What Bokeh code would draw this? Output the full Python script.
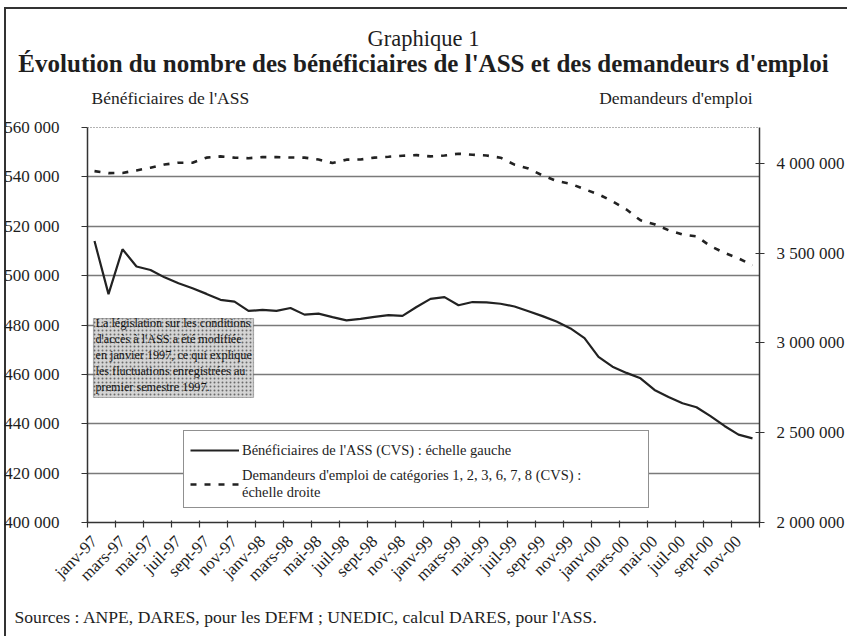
import math
from bokeh.plotting import figure
from bokeh.models import (Range1d, LinearAxis, FixedTicker, Label, Span, BoxAnnotation,
                          Legend, LegendItem, ColumnDataSource, Title)
from bokeh.embed import file_html
from bokeh.resources import INLINE

# ---------------- data ----------------
month_names = ["janv", "févr", "mars", "avr", "mai", "juin",
               "juil", "août", "sept", "oct", "nov", "déc"]
years = ["97", "98", "99", "00"]
months = [f"{m}-{y}" for y in years for m in month_names]          # 48 categories

# Bénéficiaires de l'ASS (CVS) - left scale
ass = [514000, 492500, 510700, 503700, 502300, 499300, 496900, 494900,
       492600, 490200, 489500, 485700, 486100, 485700, 486900, 484200,
       484600, 483200, 481900, 482500, 483300, 484000, 483700, 487300,
       490600, 491300, 488000, 489300, 489200, 488600, 487500, 485600,
       483600, 481400, 478600, 474700, 467100, 463100, 460600, 458400,
       453700, 450800, 448300, 446700, 443100, 439100, 435600, 434100]

# Demandeurs d'emploi cat. 1,2,3,6,7,8 (CVS) - right scale
defm = [3957000, 3946000, 3947000, 3961000, 3976000, 3994000, 4004000, 4004000,
        4032000, 4039000, 4032000, 4029000, 4035000, 4035000, 4033000, 4032000,
        4022000, 4002000, 4021000, 4022000, 4032000, 4037000, 4043000, 4046000,
        4039000, 4044000, 4054000, 4048000, 4044000, 4032000, 3993000, 3971000,
        3933000, 3902000, 3887000, 3856000, 3828000, 3789000, 3743000, 3683000,
        3661000, 3628000, 3604000, 3594000, 3539000, 3502000, 3471000, 3433000]

tick_labels = months[::2]                                            # janv-97, mars-97, ...
left_ticks = [400000, 420000, 440000, 460000, 480000, 500000, 520000, 540000, 560000]
right_ticks = [2000000, 2500000, 3000000, 3500000, 4000000]
left_lim = (400000, 560000)
right_lim = (2000000, 4200000)


def fmt(v):
    return f"{v:,}".replace(",", " ")


FONT = "Liberation Serif"
INK = "#1e1e1e"

# ---------------- geometry ----------------
W, H = 847, 636
FL, FR, FT, FB = 87, 760, 86, 522       # frame edges (px)
AX_TOP = 127                            # pixel row of the top of both scales
span_px = FB - AX_TOP
left_end = left_lim[0] + (FB - FT) * (left_lim[1] - left_lim[0]) / span_px
right_end = right_lim[0] + (FB - FT) * (right_lim[1] - right_lim[0]) / span_px

src = ColumnDataSource(dict(i=list(range(len(months))), ass=ass, defm=defm, month=months))

p = figure(width=W, height=H, output_backend="svg", toolbar_location=None,
           x_range=Range1d(-0.5, len(months) - 0.5),
           y_range=Range1d(left_lim[0], left_end),
           min_border_left=FL, min_border_right=W - FR,
           min_border_top=FT, min_border_bottom=H - FB)
p.extra_y_ranges = {"right": Range1d(right_lim[0], right_end)}
p.outline_line_color = None
p.background_fill_color = "white"
p.border_fill_color = None
p.styles = {"box-shadow": "inset 4px 7px 0 0 white, inset 6px 9px 0 0 #333333",
            "background-color": "white"}

# ---------------- titles ----------------
p.add_layout(Title(text="Évolution du nombre des bénéficiaires de l'ASS et des demandeurs d'emploi",
                   align="center", text_font=FONT, text_font_size="25px",
                   text_font_style="bold", text_color=INK, standoff=20), "above")
p.add_layout(Title(text="Graphique 1", align="center", text_font=FONT,
                   text_font_size="22.5px", text_font_style="normal", text_color=INK,
                   standoff=-26), "above")

# ---------------- axes ----------------
xa = p.xaxis[0]
label_pos = list(range(0, len(months), 2))                # label at each labelled month
bounds_pos = [k - 0.5 for k in range(0, len(months) + 1, 2)]   # tick marks between pairs
xa.ticker = FixedTicker(ticks=label_pos, minor_ticks=bounds_pos)
xa.major_label_overrides = {t: lab for t, lab in zip(label_pos, tick_labels)}
xa.major_label_orientation = math.pi / 4
xa.major_label_text_font = FONT
xa.major_label_text_font_size = "17px"
xa.major_label_text_color = INK
xa.major_tick_out = 0
xa.major_tick_in = 0
xa.minor_tick_out = 5
xa.minor_tick_in = 2
xa.minor_tick_line_color = "#333333"
xa.minor_tick_line_width = 1.2
xa.major_label_standoff = 11
xa.axis_line_color = "#333333"
xa.axis_line_width = 1.5

ya = p.yaxis[0]
ya.bounds = left_lim
ya.ticker = FixedTicker(ticks=left_ticks, minor_ticks=[])
ya.major_label_overrides = {t: fmt(t) for t in left_ticks}
ya.major_label_text_font = FONT
ya.major_label_text_font_size = "17px"
ya.major_label_text_color = INK
ya.major_tick_out = 6
ya.major_tick_in = 0
ya.major_label_standoff = 22
ya.axis_line_color = "#333333"
ya.axis_line_width = 1.5
ya.major_tick_line_color = "#333333"

ra = LinearAxis(y_range_name="right")
ra.bounds = right_lim
ra.ticker = FixedTicker(ticks=right_ticks, minor_ticks=[])
ra.major_label_overrides = {t: fmt(t) for t in right_ticks}
ra.major_label_text_font = FONT
ra.major_label_text_font_size = "17px"
ra.major_label_text_color = INK
ra.major_tick_out = 5
ra.major_tick_in = 4
ra.major_label_standoff = 12
ra.axis_line_color = "#333333"
ra.axis_line_width = 1.5
ra.major_tick_line_color = "#333333"
p.add_layout(ra, "right")

p.add_layout(Title(text="Sources : ANPE, DARES, pour les DEFM ; UNEDIC, calcul DARES, pour l'ASS.",
                   align="left", offset=-73, text_font=FONT, text_font_size="17.6px",
                   text_font_style="normal", text_color=INK, standoff=20), "below")

p.xgrid.grid_line_color = None
p.ygrid.ticker = FixedTicker(ticks=left_ticks[1:-1], minor_ticks=[])
p.ygrid.grid_line_color = "#7a7a7a"
p.ygrid.grid_line_width = 1.3

p.add_layout(Span(location=left_lim[1], dimension="width", line_color="#666666",
                  line_dash="1 2", line_width=1.2))

# ---------------- series ----------------
r_ass = p.line("i", "ass", source=src, line_color="#222222", line_width=2.2)
r_defm = p.line("i", "defm", source=src, y_range_name="right", line_color="#222222",
                line_width=2.6, line_dash="6 8")

legend = Legend(items=[
    LegendItem(label="Bénéficiaires de l'ASS (CVS) : échelle gauche", renderers=[r_ass]),
    LegendItem(label="Demandeurs d'emploi de catégories 1, 2, 3, 6, 7, 8 (CVS) :\néchelle droite",
               renderers=[r_defm]),
], location=(96, 14))
legend.margin = 0
legend.padding = 6
legend.spacing = 4
legend.glyph_width = 49
legend.glyph_height = 26
legend.label_height = 26
legend.label_width = 400
legend.label_standoff = 3
legend.label_text_font = FONT
legend.label_text_font_size = "14.5px"
legend.label_text_color = INK
legend.label_text_line_height = 1.15
legend.border_line_color = "#222222"
legend.border_line_width = 1.2
legend.background_fill_color = "white"
legend.background_fill_alpha = 1
p.add_layout(legend, "center")

# ---------------- annotation box ----------------
p.add_layout(BoxAnnotation(left=6, right=166, top=204, bottom=125,
                           left_units="screen", right_units="screen",
                           top_units="screen", bottom_units="screen",
                           fill_color="#d4d4d4", fill_alpha=1,
                           hatch_pattern=".", hatch_color="#6a6a6a", hatch_scale=4,
                           line_color="#222222", line_width=1.2, level="overlay"))
p.add_layout(Label(x=8, y=207, x_units="screen", y_units="screen",
                   text="La législation sur les conditions\nd'accès à l'ASS a été modifiée\n"
                        "en janvier 1997, ce qui explique\nles fluctuations enregistrées au\n"
                        "premier semestre 1997.",
                   text_font=FONT, text_font_size="12.2px", text_color="#111111",
                   text_line_height=1.15, text_baseline="top", text_align="left",
                   level="overlay"))

# ---------------- axis titles (inside the frame's top band) ----------------
p.add_layout(Label(x=91 - FL, y=FB - 97, x_units="screen", y_units="screen",
                   text="Bénéficiaires de l'ASS", text_font=FONT, text_font_size="17.5px",
                   text_color=INK, text_align="left", text_baseline="middle"))
p.add_layout(Label(x=752 - FL, y=FB - 97, x_units="screen", y_units="screen",
                   text="Demandeurs d'emploi", text_font=FONT, text_font_size="17.5px",
                   text_color=INK, text_align="right", text_baseline="middle"))

open("out.html", "w").write(file_html(p, INLINE))
